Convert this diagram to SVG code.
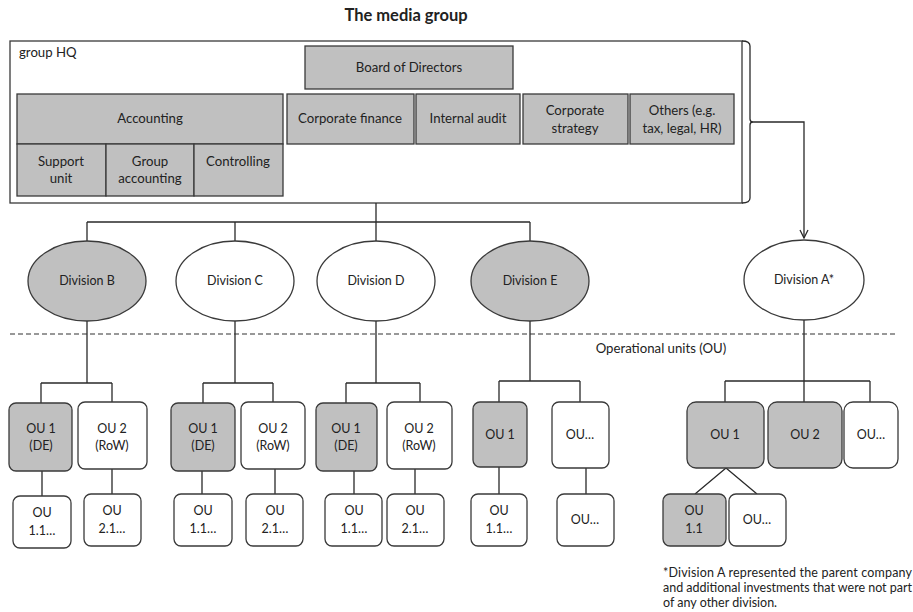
<svg xmlns="http://www.w3.org/2000/svg" width="913" height="612" viewBox="0 0 913 612">
<defs>
<style>
text{font-family:Lato,"Liberation Sans",sans-serif;font-size:12.5px;fill:#222;text-anchor:middle}
.t{font-weight:bold;font-size:16.5px}
.h{font-size:13.2px}
.l{text-anchor:start}
.f{font-size:12.5px;text-anchor:start}
.g{fill:#c0c0c0;stroke:#3a3a3a;stroke-width:1.3}
.w{fill:#fff;stroke:#3a3a3a;stroke-width:1.3}
.c{fill:none;stroke:#2a2a2a;stroke-width:1.3}
.d{fill:none;stroke:#333;stroke-width:1.2;stroke-dasharray:5 3}
</style>
<marker id="arr" viewBox="0 0 10 10" refX="9" refY="5" markerWidth="10" markerHeight="10" orient="auto" markerUnits="userSpaceOnUse">
<path d="M1,1 L9,5 L1,9" fill="none" stroke="#2a2a2a" stroke-width="1.3"/>
</marker>
</defs>
<rect width="913" height="612" fill="#fff"/>
<text class="t" x="406" y="21">The media group</text>

<g id="hq">
<rect class="w" x="10" y="41" width="732" height="162"/>
<path class="c" d="M742,41 Q750,41 750,46 L750,119 Q750,122 753,122 Q750,122 750,125 L750,198 Q750,203 742,203"/>
<text class="l h" x="19" y="57">group HQ</text>
</g>
<g id="board" class="h"><rect class="g" x="305" y="46" width="208" height="43"/><text class="h" x="409" y="72">Board of Directors</text></g>
<g id="accounting"><rect class="g" x="17" y="94" width="266" height="50"/><text class="h" x="150" y="123">Accounting</text></g>
<g id="support"><rect class="g" x="17" y="144" width="89" height="52"/><text class="h" x="61" y="166">Support</text><text class="h" x="61" y="183">unit</text></g>
<g id="groupacc"><rect class="g" x="106" y="144" width="88" height="52"/><text class="h" x="150" y="166">Group</text><text class="h" x="150" y="183">accounting</text></g>
<g id="controlling"><rect class="g" x="194" y="144" width="89" height="52"/><text class="h" x="238" y="166">Controlling</text></g>
<g id="corpfin"><rect class="g" x="287" y="94" width="127" height="50"/><text class="h" x="350" y="123">Corporate finance</text></g>
<g id="audit"><rect class="g" x="416" y="94" width="104" height="50"/><text class="h" x="468" y="123">Internal audit</text></g>
<g id="strategy"><rect class="g" x="523" y="94" width="105" height="50"/><text class="h" x="575" y="115">Corporate</text><text class="h" x="575" y="133">strategy</text></g>
<g id="others"><rect class="g" x="630" y="94" width="104" height="50"/><text class="h" x="682" y="115">Others (e.g.</text><text class="h" x="682" y="133">tax, legal, HR)</text></g>

<g id="connectors">
<path class="c" d="M376,203 V222 M87,222 H530 M87,222 V241 M235,222 V241 M376,222 V241 M530,222 V241"/>
<path class="c" d="M753,122 H804 V238" marker-end="url(#arr)"/>
<path class="c" d="M87,321 V383 M41,383 H112 M41,383 V403 M112,383 V402 M42,471 V496 M112,469 V494"/>
<path class="c" d="M235,321 V383 M203,383 H273 M203,383 V403 M273,383 V402 M202,471 V494 M275,469 V494"/>
<path class="c" d="M376,321 V383 M346,383 H420 M346,383 V403 M420,383 V402 M354,471 V494 M415,469 V494"/>
<path class="c" d="M530,321 V381 M499,381 H580 M499,381 V402 M580,381 V402 M499,467 V494 M586,468 V494"/>
<path class="c" d="M804,320 V402 M725,381 H870 M725,381 V402 M870,381 V402 M726,468 L695,494 M726,468 L757,494"/>
</g>
<line class="d" x1="10" y1="334" x2="898" y2="334"/>
<text class="h" x="661" y="353">Operational units  (OU)</text>

<g id="divB"><ellipse class="g" cx="87" cy="281" rx="59" ry="40"/><text x="87" y="285">Division B</text></g>
<g id="divC"><ellipse class="w" cx="235" cy="281" rx="59" ry="40"/><text x="235" y="285">Division C</text></g>
<g id="divD"><ellipse class="w" cx="376" cy="281" rx="59" ry="40"/><text x="376" y="285">Division D</text></g>
<g id="divE"><ellipse class="g" cx="530" cy="281" rx="59" ry="40"/><text x="530" y="285">Division E</text></g>
<g id="divA"><ellipse class="w" cx="804" cy="280" rx="60" ry="40"/><text x="804" y="284">Division A*</text></g>

<g id="b_ou1"><rect class="g" x="9" y="403" width="63" height="68" rx="7"/><text x="41" y="433">OU 1</text><text x="41" y="450">(DE)</text></g>
<g id="b_ou2"><rect class="w" x="78" y="402" width="69" height="67" rx="7"/><text x="112" y="433">OU 2</text><text x="112" y="450">(RoW)</text></g>
<g id="b_ou11"><rect class="w" x="13" y="496" width="58" height="52" rx="7"/><text x="42" y="517">OU</text><text x="42" y="535">1.1…</text></g>
<g id="b_ou21"><rect class="w" x="84" y="494" width="57" height="52" rx="7"/><text x="112" y="515">OU</text><text x="112" y="533">2.1…</text></g>

<g id="c_ou1"><rect class="g" x="171" y="403" width="64" height="68" rx="7"/><text x="203" y="433">OU 1</text><text x="203" y="450">(DE)</text></g>
<g id="c_ou2"><rect class="w" x="241" y="402" width="64" height="67" rx="7"/><text x="273" y="433">OU 2</text><text x="273" y="450">(RoW)</text></g>
<g id="c_ou11"><rect class="w" x="174" y="494" width="58" height="52" rx="7"/><text x="203" y="515">OU</text><text x="203" y="533">1.1…</text></g>
<g id="c_ou21"><rect class="w" x="246" y="494" width="57" height="52" rx="7"/><text x="275" y="515">OU</text><text x="275" y="533">2.1…</text></g>

<g id="d_ou1"><rect class="g" x="316" y="403" width="61" height="68" rx="7"/><text x="346" y="433">OU 1</text><text x="346" y="450">(DE)</text></g>
<g id="d_ou2"><rect class="w" x="387" y="402" width="65" height="67" rx="7"/><text x="419" y="433">OU 2</text><text x="419" y="450">(RoW)</text></g>
<g id="d_ou11"><rect class="w" x="325" y="494" width="57" height="52" rx="7"/><text x="354" y="515">OU</text><text x="354" y="533">1.1…</text></g>
<g id="d_ou21"><rect class="w" x="387" y="494" width="57" height="52" rx="7"/><text x="415" y="515">OU</text><text x="415" y="533">2.1…</text></g>

<g id="e_ou1"><rect class="g" x="473" y="402" width="54" height="65" rx="7"/><text x="500" y="439">OU 1</text></g>
<g id="e_oux"><rect class="w" x="552" y="402" width="57" height="66" rx="7"/><text x="580" y="439">OU…</text></g>
<g id="e_ou11"><rect class="w" x="471" y="494" width="56" height="52" rx="7"/><text x="499" y="515">OU</text><text x="499" y="533">1.1…</text></g>
<g id="e_ouy"><rect class="w" x="557" y="494" width="57" height="52" rx="7"/><text x="585" y="524">OU…</text></g>

<g id="a_ou1"><rect class="g" x="687" y="402" width="77" height="66" rx="9"/><text x="725" y="439">OU 1</text></g>
<g id="a_ou2"><rect class="g" x="768" y="402" width="74" height="66" rx="9"/><text x="805" y="439">OU 2</text></g>
<g id="a_oux"><rect class="w" x="844" y="402" width="54" height="66" rx="9"/><text x="871" y="439">OU…</text></g>
<g id="a_ou11"><rect class="g" x="663" y="494" width="63" height="52" rx="7"/><text x="694" y="515">OU</text><text x="694" y="533">1.1</text></g>
<g id="a_ouy"><rect class="w" x="729" y="494" width="57" height="52" rx="7"/><text x="757" y="524">OU…</text></g>

<text class="f" x="663" y="577" textLength="249" lengthAdjust="spacing">*Division A represented the parent company</text>
<text class="f" x="663" y="592" textLength="249" lengthAdjust="spacing">and additional investments that were not part</text>
<text class="f" x="663" y="607">of any other division.</text>
</svg>
